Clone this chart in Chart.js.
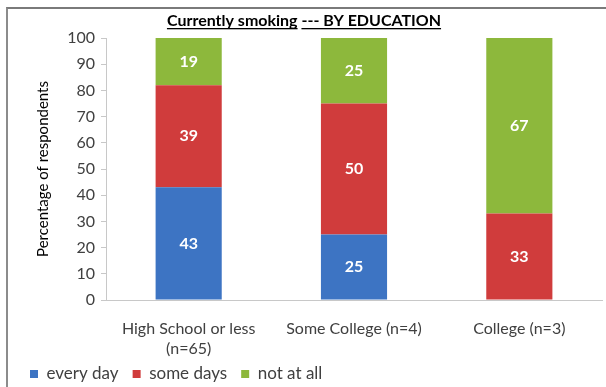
<!DOCTYPE html>
<html>
<head>
<meta charset="utf-8">
<script src="https://cdn.jsdelivr.net/npm/chart.js@4"></script>
<style>
  html, body { margin: 0; padding: 0; background: #fff; }
  #wrap { position: relative; width: 606px; height: 387px; overflow: hidden; }
  #frame { position: absolute; left: 6px; top: 7px; right: -4px; bottom: -4px;
           border-left: 2px solid #8c8c8c; border-top: 2px solid #7a7a7a; pointer-events: none; }
  canvas { position: absolute; left: 0; top: 0; }
</style>
</head>
<body>
<div id="wrap">
  <canvas id="smokingChart" width="606" height="387"></canvas>
  <div id="frame"></div>
</div>
<script>
// Categories and shares (percent of respondents)
const categories = [['High School or less', '(n=65)'], 'Some College (n=4)', 'College (n=3)'];
const everyDay = [43, 25, 0];
const someDays = [39, 50, 33];
const notAtAll = [19, 25, 67];
const yTicks = [0, 10, 20, 30, 40, 50, 60, 70, 80, 90, 100];

const FONT = 'Lato, "Open Sans", sans-serif';
const LEGEND_SIZE = 17;
const LEGEND_PAD = 14;

// Title with the two underlined parts
const titlePlugin = {
  id: 'underlinedTitle',
  afterDraw(chart) {
    const ctx = chart.ctx;
    const parts = ['Currently smoking', ' ', '--- BY EDUCATION'];
    ctx.save();
    ctx.font = 'bold 16px ' + FONT;
    ctx.fillStyle = '#000';
    ctx.textBaseline = 'alphabetic';
    const widths = parts.map(p => ctx.measureText(p).width);
    const total = widths.reduce((a, b) => a + b, 0);
    let x = 304 - total / 2;
    const y = 26;
    parts.forEach((p, i) => {
      ctx.fillText(p, x, y);
      if (p.trim()) {
        ctx.fillRect(x, y + 2, widths[i], 1.3);
      }
      x += widths[i];
    });
    ctx.restore();
  }
};

// White value labels in the middle of each segment
const segmentLabels = {
  id: 'segmentLabels',
  afterDatasetsDraw(chart) {
    const ctx = chart.ctx;
    ctx.save();
    ctx.font = 'bold 16px ' + FONT;
    ctx.fillStyle = '#fff';
    ctx.textAlign = 'center';
    ctx.textBaseline = 'middle';
    chart.data.datasets.forEach((ds, di) => {
      chart.getDatasetMeta(di).data.forEach((bar, i) => {
        const v = ds.data[i];
        if (!v) return;
        const top = Math.max(bar.y, chart.chartArea.top);
        ctx.fillText(String(v), bar.x, (top + bar.base) / 2);
      });
    });
    ctx.restore();
  }
};

// Legend keeps wide item spacing but only reserves a short strip in the layout
const legendPlace = {
  id: 'legendPlace',
  beforeLayout(chart) {
    const lg = chart.legend;
    if (!lg || lg._short) return;
    const fit = lg.fit.bind(lg);
    lg.fit = function () {
      fit();
      this.height = 26;
    };
    lg._short = true;
  },
  afterLayout(chart) {
    const lg = chart.legend;
    if (!lg) return;
    lg.top = 374 - LEGEND_PAD - LEGEND_SIZE / 2;
    lg.height = 36;
    lg.bottom = lg.top + lg.height;
    lg.left = 16;
  }
};

new Chart(document.getElementById('smokingChart'), {
  type: 'bar',
  data: {
    labels: categories,
    datasets: [
      { label: 'every day', data: everyDay, backgroundColor: '#3d74c3' },
      { label: 'some days', data: someDays, backgroundColor: '#d03c3c' },
      { label: 'not at all', data: notAtAll, backgroundColor: '#8db83c' }
    ]
  },
  options: {
    responsive: false,
    animation: false,
    layout: { padding: { left: 6, top: 38, right: 4, bottom: 0 } },
    datasets: { bar: { barPercentage: 0.4, categoryPercentage: 1 } },
    plugins: {
      title: { display: false },
      tooltip: { enabled: false },
      legend: {
        position: 'bottom',
        align: 'start',
        labels: {
          boxWidth: 8,
          boxHeight: 8,
          padding: LEGEND_PAD,
          color: '#404040',
          font: { family: FONT, size: LEGEND_SIZE }
        }
      }
    },
    scales: {
      x: {
        stacked: true,
        grid: { display: false },
        border: { color: '#c8c8c8' },
        afterFit(scale) { scale.height = 61; },
        ticks: { color: '#404040', font: { family: FONT, size: 16, lineHeight: 1.25 }, padding: 11, maxRotation: 0 }
      },
      y: {
        stacked: true,
        min: 0,
        max: 100,
        afterBuildTicks(scale) { scale.ticks = yTicks.map(v => ({ value: v })); },
        afterFit(scale) { scale.width = 100; },
        grid: { drawOnChartArea: false, tickLength: 5, color: '#c8c8c8' },
        border: { color: '#c8c8c8' },
        ticks: { color: '#404040', font: { family: FONT, size: 16 }, padding: 6 },
        title: {
          display: true,
          text: 'Percentage of respondents',
          color: '#000',
          font: { family: FONT, size: 15 },
          padding: { top: 28, bottom: 0 }
        }
      }
    }
  },
  plugins: [titlePlugin, segmentLabels, legendPlace]
});
</script>
</body>
</html>
